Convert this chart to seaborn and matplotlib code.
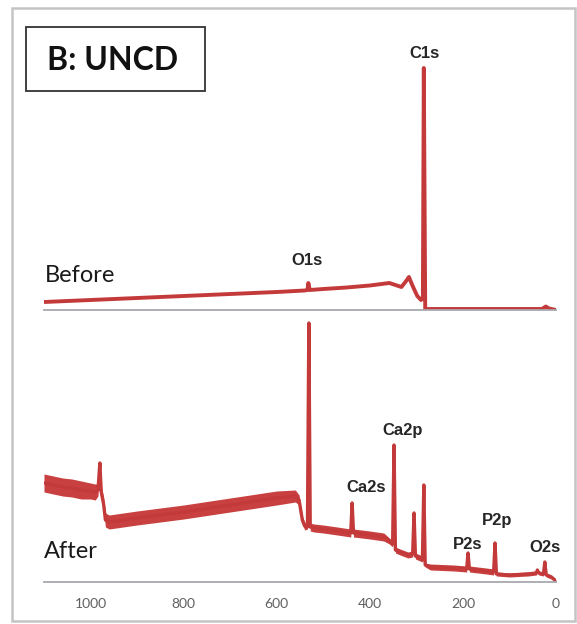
import numpy as np
import pandas as pd
import matplotlib
matplotlib.use("Agg")
import matplotlib.pyplot as plt
from matplotlib.patches import Rectangle
import seaborn as sns

# Spectre XPS "Before" (énergie de liaison en eV, intensité u.a.)
before_ev = [1100, 1000, 900, 800, 700, 600, 540, 534, 532, 529, 500, 450, 400,
             358, 345, 332, 322, 316, 308, 298, 290, 286, 284, 281, 270,
             200, 100, 30, 22, 15, 0]
before_int = [8, 10, 12, 14, 16, 18, 19.5, 20, 27, 20, 21, 22.5, 24.5,
              27, 25, 23, 29, 33, 24, 14, 10, 12, 242, 1, 1,
              1, 1, 1, 3.5, 1.5, 0]

# Spectre XPS "After" + demi-largeur de la bande de bruit
after_ev = [1100, 1080, 1060, 1040, 1020, 1000, 990, 984, 980, 977, 972, 968,
            960, 900, 800, 700, 600, 560, 552, 545, 540, 534, 531, 528, 520,
            500, 470, 441, 438, 435, 400, 370, 358, 351, 348, 345, 335, 318,
            308, 305, 302, 292, 287, 284, 281, 270, 220, 192, 189, 186, 150,
            134, 131, 128, 100, 60, 42, 40, 37, 27, 24, 21, 10, 0]
after_int = [99, 97, 95, 94, 92, 91, 90, 92, 119, 90, 78, 62,
             60, 64, 70, 77, 84, 86, 82, 62, 56, 55, 259, 55, 54,
             53, 51, 49, 79, 49, 47, 45, 41, 38, 137, 32, 30, 27,
             28, 69, 26, 24, 22, 97, 17, 15, 14, 13, 29, 13, 11,
             10, 39, 8, 7, 8, 9, 12, 9, 8, 20, 7, 5, 1]
after_noise = [9, 9, 9, 9, 9, 8, 8, 6, 2, 6, 7, 7,
               7, 7, 7, 7, 7, 6, 5, 4, 4, 2, 1, 4, 4,
               4, 4, 4, 1, 4, 4, 4, 3, 3, 1, 3, 3, 3,
               3, 1, 3, 3, 2, 1, 2, 3, 3, 3, 1, 3, 3,
               3, 1, 2, 2, 2, 2, 1, 2, 2, 1, 2, 2, 1]

xticks = [1000, 800, 600, 400, 200, 0]

# Étiquettes des pics : (texte, eV, hauteur de la ligne de base)
before_labels = [("C1s", 282, 252), ("O1s", 535, 45)]
after_labels = [("Ca2p", 329, 147), ("Ca2s", 407, 90), ("P2p", 126, 57),
                ("P2s", 190, 33), ("O2s", 24, 30)]

RED = "#C43A3A"
W, H = 577, 624

sns.set_style("white")
plt.rcParams['font.family'] = ['Lato', 'DejaVu Sans']

fig = plt.figure(figsize=(W / 100, H / 100), dpi=100)
ax_top = fig.add_axes([44 / W, 1 - 310 / H, 512 / W, 270 / H])
ax_bot = fig.add_axes([44 / W, 1 - 582 / H, 512 / W, 270 / H])

df_before = pd.DataFrame({"ev": before_ev, "intensity": before_int})
df_after = pd.DataFrame({"ev": after_ev, "intensity": after_int, "noise": after_noise})

sns.lineplot(data=df_before, x="ev", y="intensity", ax=ax_top, color=RED,
             lw=2.8, estimator=None, sort=False)

ax_bot.fill_between(df_after["ev"], df_after["intensity"] - df_after["noise"],
                    df_after["intensity"] + df_after["noise"], color="#C94040", lw=0)
sns.lineplot(data=df_after, x="ev", y="intensity", ax=ax_bot, color=RED,
             lw=2.4, estimator=None, sort=False)

for ax in (ax_top, ax_bot):
    ax.set_xlim(1100, 0)
    ax.set_ylim(0, 270)
    ax.set_xticks(xticks)
    ax.set_yticks([])
    ax.set_xlabel("")
    ax.set_ylabel("")
    ax.patch.set_alpha(0)
    for side in ("left", "top", "right"):
        ax.spines[side].set_visible(False)
    ax.spines["bottom"].set_color("#a8a8b0")
    ax.spines["bottom"].set_linewidth(1.3)
    ax.tick_params(axis="x", direction="out", length=3.5, width=1,
                   color="#a8a8b0", labelsize=10, labelcolor="#606060", pad=8)

ax_top.tick_params(axis="x", labelbottom=False)

label_font = dict(family="Liberation Sans", fontsize=12, fontweight="bold",
                  color="#262626", ha="center", va="baseline")
for txt, ev, h in before_labels:
    ax_top.text(ev, h, txt, **label_font)
for txt, ev, h in after_labels:
    ax_bot.text(ev, h, txt, **label_font)

ax_top.text(1098, 28, "Before", fontsize=17, color="#1a1a1a", ha="left", va="baseline")
ax_bot.text(1100, 24, "After", fontsize=17, color="#1a1a1a", ha="left", va="baseline")

# Cadre extérieur et encadré du titre
fig.patches.append(Rectangle((12 / W, 1 - 621 / H), 563 / W, 613 / H,
                             transform=fig.transFigure, fill=False,
                             edgecolor="#c4c4c4", lw=1.8))
fig.patches.append(Rectangle((26 / W, 1 - 91 / H), 179 / W, 64 / H,
                             transform=fig.transFigure, fill=False,
                             edgecolor="#333333", lw=1.3))
fig.text(113 / W, 1 - 60 / H, "B: UNCD", fontsize=23, fontweight="bold",
         color="#111111", ha="center", va="center")

fig.savefig("out.png", dpi=100)
